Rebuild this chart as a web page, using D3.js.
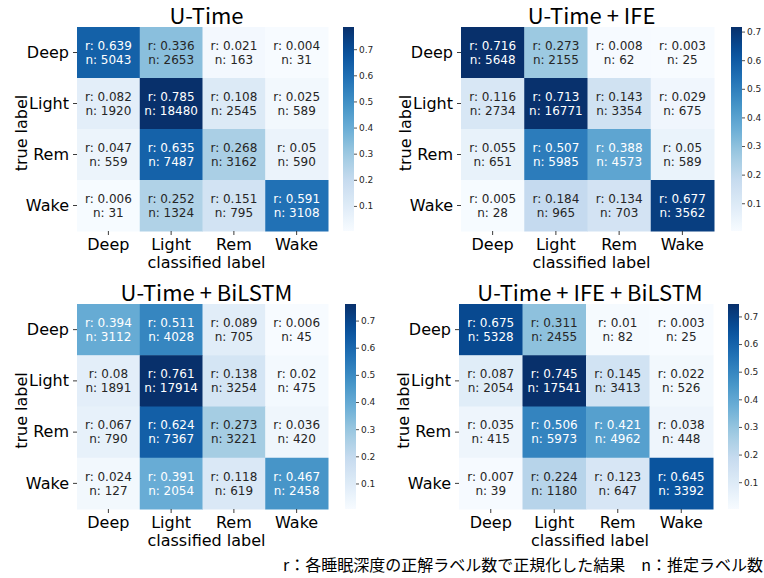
<!DOCTYPE html>
<html>
<head>
<meta charset="utf-8">
<script src="https://cdn.jsdelivr.net/npm/d3@7"></script>
<style>
  html, body { margin: 0; padding: 0; background: #fff; }
  svg { display: block; }
</style>
</head>
<body>
<svg id="chart" width="764" height="578"></svg>
<script>
// Sleep-stage classes (rows = true label, columns = classified label)
const stages = ["Deep", "Light", "Rem", "Wake"];

const titles = ["U-Time", "U-Time + IFE", "U-Time + BiLSTM", "U-Time + IFE + BiLSTM"];

// Row-normalised ratios (r) per model
const ratioUTime = [
  [0.639, 0.336, 0.021, 0.004],
  [0.082, 0.785, 0.108, 0.025],
  [0.047, 0.635, 0.268, 0.05],
  [0.006, 0.252, 0.151, 0.591]
];
const ratioIFE = [
  [0.716, 0.273, 0.008, 0.003],
  [0.116, 0.713, 0.143, 0.029],
  [0.055, 0.507, 0.388, 0.05],
  [0.005, 0.184, 0.134, 0.677]
];
const ratioBiLSTM = [
  [0.394, 0.511, 0.089, 0.006],
  [0.08, 0.761, 0.138, 0.02],
  [0.067, 0.624, 0.273, 0.036],
  [0.024, 0.391, 0.118, 0.467]
];
const ratioIFEBiLSTM = [
  [0.675, 0.311, 0.01, 0.003],
  [0.087, 0.745, 0.145, 0.022],
  [0.035, 0.506, 0.421, 0.038],
  [0.007, 0.224, 0.123, 0.645]
];

// Epoch counts (n) per model
const countUTime = [
  [5043, 2653, 163, 31],
  [1920, 18480, 2545, 589],
  [559, 7487, 3162, 590],
  [31, 1324, 795, 3108]
];
const countIFE = [
  [5648, 2155, 62, 25],
  [2734, 16771, 3354, 675],
  [651, 5985, 4573, 589],
  [28, 965, 703, 3562]
];
const countBiLSTM = [
  [3112, 4028, 705, 45],
  [1891, 17914, 3254, 475],
  [790, 7367, 3221, 420],
  [127, 2054, 619, 2458]
];
const countIFEBiLSTM = [
  [5328, 2455, 82, 25],
  [2054, 17541, 3413, 526],
  [415, 5973, 4962, 448],
  [39, 1180, 647, 3392]
];

const colorbarTicks = [0.1, 0.2, 0.3, 0.4, 0.5, 0.6, 0.7];

const footnote = "r：各睡眠深度の正解ラベル数で正規化した結果　n：推定ラベル数";

// ---- layout ----
const panels = [
  { title: titles[0], r: ratioUTime,     n: countUTime,     x0: 77,  x1: 328, y0: 27,  y1: 231, cb: 343 },
  { title: titles[1], r: ratioIFE,       n: countIFE,       x0: 461, x1: 714, y0: 27,  y1: 231, cb: 731 },
  { title: titles[2], r: ratioBiLSTM,    n: countBiLSTM,    x0: 77,  x1: 328, y0: 304, y1: 509, cb: 345 },
  { title: titles[3], r: ratioIFEBiLSTM, n: countIFEBiLSTM, x0: 459, x1: 713, y0: 304, y1: 509, cb: 728 }
];

const JP = "'Noto Sans CJK JP', 'Noto Sans', sans-serif";
const DV = "'DejaVu Sans', sans-serif";
const ink = "#262626";

// Blues colour map (ColorBrewer 9-class, linear segments)
const bluesStops = ["#f7fbff", "#deebf7", "#c6dbef", "#9ecae1", "#6baed6",
                    "#4292c6", "#2171b5", "#08519c", "#08306b"];
const blues = d3.scaleLinear()
  .domain(d3.range(bluesStops.length).map(i => i / (bluesStops.length - 1)))
  .range(bluesStops)
  .interpolate(d3.interpolateRgb)
  .clamp(true);

function luminance(c) {
  const rgb = d3.rgb(c);
  const f = v => { v /= 255; return v <= 0.03928 ? v / 12.92 : Math.pow((v + 0.055) / 1.055, 2.4); };
  return 0.2126 * f(rgb.r) + 0.7152 * f(rgb.g) + 0.0722 * f(rgb.b);
}

const svg = d3.select("#chart");
const defs = svg.append("defs");

panels.forEach((p, pi) => {
  const g = svg.append("g");
  const flat = p.r.flat();
  const vmin = d3.min(flat), vmax = d3.max(flat);
  const norm = d3.scaleLinear().domain([vmin, vmax]).range([0, 1]);

  const x = d3.scaleBand().domain(stages).range([p.x0, p.x1]);
  const y = d3.scaleBand().domain(stages).range([p.y0, p.y1]);

  const cells = [];
  stages.forEach((rowLab, i) => stages.forEach((colLab, j) => {
    cells.push({ row: rowLab, col: colLab, r: p.r[i][j], n: p.n[i][j] });
  }));

  // heatmap cells
  g.selectAll("rect.cell").data(cells).enter().append("rect")
    .attr("class", "cell")
    .attr("x", d => x(d.col))
    .attr("y", d => y(d.row))
    .attr("width", x.bandwidth() + 0.5)
    .attr("height", y.bandwidth() + 0.5)
    .attr("fill", d => blues(norm(d.r)));

  // annotations
  const ann = g.selectAll("g.ann").data(cells).enter().append("g")
    .attr("class", "ann")
    .attr("transform", d => `translate(${x(d.col) + x.bandwidth() / 2},${y(d.row) + y.bandwidth() / 2})`)
    .attr("font-family", DV)
    .attr("font-size", 12)
    .attr("text-anchor", "middle")
    .attr("fill", d => luminance(blues(norm(d.r))) > 0.408 ? ink : "#ffffff");
  ann.append("text").attr("y", -7).attr("dy", "0.35em").text(d => "r: " + d.r);
  ann.append("text").attr("y", 7).attr("dy", "0.35em").text(d => "n: " + d.n);

  // y axis
  const yAxis = g.append("g")
    .attr("transform", `translate(${p.x0},0)`)
    .call(d3.axisLeft(y).tickSize(4).tickPadding(4));
  yAxis.select(".domain").remove();
  yAxis.selectAll(".tick line").attr("stroke", ink).attr("stroke-width", 0.9);
  yAxis.selectAll(".tick text").attr("font-family", DV).attr("font-size", 16).attr("fill", "#000");

  // x axis
  const xAxis = g.append("g")
    .attr("transform", `translate(0,${p.y1})`)
    .call(d3.axisBottom(x).tickSize(4).tickPadding(4));
  xAxis.select(".domain").remove();
  xAxis.selectAll(".tick line").attr("stroke", ink).attr("stroke-width", 0.9);
  xAxis.selectAll(".tick text").attr("font-family", DV).attr("font-size", 16).attr("fill", "#000");

  const cx = (p.x0 + p.x1) / 2 + 4;
  const cy = (p.y0 + p.y1) / 2 + 4;

  // title
  g.append("text")
    .attr("x", cx).attr("y", p.y0 - 3.5)
    .attr("text-anchor", "middle")
    .attr("font-family", JP).attr("font-size", 22)
    .attr("fill", "#000")
    .text(p.title);

  // axis labels
  g.append("text")
    .attr("x", cx).attr("y", p.y1 + 37)
    .attr("text-anchor", "middle")
    .attr("font-family", DV).attr("font-size", 16)
    .attr("fill", "#000")
    .text("classified label");
  g.append("text")
    .attr("transform", `translate(${p.x0 - 50},${cy}) rotate(-90)`)
    .attr("text-anchor", "middle")
    .attr("font-family", DV).attr("font-size", 16)
    .attr("fill", "#000")
    .text("true label");

  // colour bar
  const cw = 11;
  const cbScale = d3.scaleLinear().domain([vmin, vmax]).range([p.y1, p.y0]);
  const gradId = "cbgrad" + pi;
  const grad = defs.append("linearGradient")
    .attr("id", gradId)
    .attr("x1", 0).attr("y1", 1).attr("x2", 0).attr("y2", 0);
  d3.range(0, 1.0001, 0.05).forEach(t => {
    grad.append("stop").attr("offset", t).attr("stop-color", blues(t));
  });
  g.append("rect")
    .attr("x", p.cb).attr("y", p.y0)
    .attr("width", cw).attr("height", p.y1 - p.y0)
    .attr("fill", `url(#${gradId})`);

  const cbAxis = g.append("g")
    .attr("transform", `translate(${p.cb + cw},0)`)
    .call(d3.axisRight(cbScale)
      .tickValues(colorbarTicks.filter(v => v >= vmin && v <= vmax))
      .tickFormat(d3.format(".1f"))
      .tickSize(3).tickPadding(2));
  cbAxis.select(".domain").remove();
  cbAxis.selectAll(".tick line").attr("stroke", ink).attr("stroke-width", 0.8);
  cbAxis.selectAll(".tick text").attr("font-family", DV).attr("font-size", 9).attr("fill", ink);
});

// footnote
svg.append("text")
  .attr("x", 763).attr("y", 571)
  .attr("text-anchor", "end")
  .attr("font-family", JP).attr("font-size", 16)
  .attr("fill", "#000")
  .text(footnote);
</script>
</body>
</html>
